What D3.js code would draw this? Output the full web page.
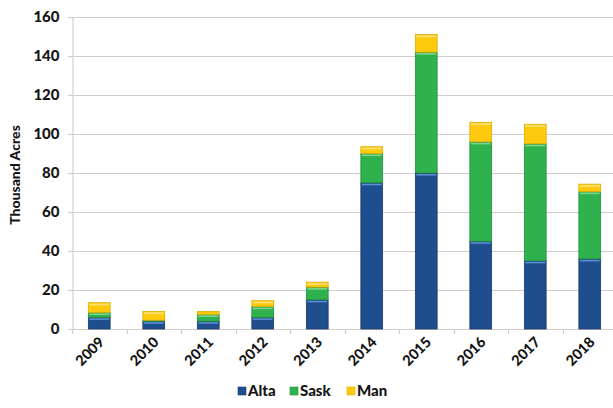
<!DOCTYPE html>
<html>
<head>
<meta charset="utf-8">
<script src="https://cdn.jsdelivr.net/npm/d3@7"></script>
<style>
  html, body { margin: 0; padding: 0; background: #fff; }
  svg { display: block; }
  text { font-family: Lato, "Open Sans", sans-serif; font-weight: 900; fill: #151515; }
</style>
</head>
<body>
<svg id="chart" width="613" height="408"></svg>
<script>
// Seeded acreage by province, thousand acres
const years = ["2009", "2010", "2011", "2012", "2013", "2014", "2015", "2016", "2017", "2018"];
const alta = [6, 4, 4, 6, 15, 75, 80, 45, 35, 36];
const sask = [2.5, 0.5, 3.5, 5.5, 6.5, 15, 62, 51, 60, 34.5];
const man  = [5, 4.5, 1.5, 3, 2.5, 3.5, 9, 10, 10, 3.8];
const seriesNames = ["Alta", "Sask", "Man"];
const yTicks = [0, 20, 40, 60, 80, 100, 120, 140, 160];

const colors = { Alta: "#1f4e8e", Sask: "#2fb14e", Man: "#ffc90e" };
const highlights = { Alta: "#5a8fd0", Sask: "#7fd48c", Man: "#ffe27a" };
const edges = { Alta: "#173d70", Sask: "#23913d", Man: "#e0ad00" };

const rows = years.map((yr, i) => ({ year: yr, Alta: alta[i], Sask: sask[i], Man: man[i] }));
const stacked = d3.stack().keys(seriesNames)(rows);

const svg = d3.select("#chart");
const plotLeft = 72, plotRight = 617, plotTop = 17, plotBottom = 329;

const x = d3.scaleBand().domain(years).range([plotLeft, plotRight]).paddingInner(0.6).paddingOuter(0.3);
const xb = d3.scaleBand().domain(years).range([plotLeft, plotRight]);
const y = d3.scaleLinear().domain([0, 160]).range([plotBottom, plotTop]);

const gridColor = "#d6cdc9";

// horizontal gridlines with short ticks left of the axis
svg.append("g").selectAll("line").data(yTicks.filter(d => d > 0)).join("line")
  .attr("x1", plotLeft - 4).attr("x2", 613)
  .attr("y1", d => Math.round(y(d)) + 0.5).attr("y2", d => Math.round(y(d)) + 0.5)
  .attr("stroke", gridColor).attr("stroke-width", 1.2);

// y axis
const yAxis = d3.axisLeft(y).tickValues(yTicks).tickSize(4).tickPadding(9);
const gy = svg.append("g").attr("transform", `translate(${plotLeft + 0.5},0)`).call(yAxis);
gy.select(".domain").attr("stroke", gridColor).attr("stroke-width", 1.2);
gy.selectAll(".tick line").attr("stroke", gridColor).attr("stroke-width", 1.2);
gy.selectAll(".tick text").attr("font-size", 15).attr("font-family", "Lato, sans-serif")
  .attr("font-weight", 900).attr("fill", "#151515");

// x axis with ticks at category boundaries
svg.append("line").attr("x1", plotLeft).attr("x2", 613)
  .attr("y1", plotBottom + 0.5).attr("y2", plotBottom + 0.5)
  .attr("stroke", gridColor).attr("stroke-width", 1.2);
svg.append("g").selectAll("line").data(years.concat(["end"])).join("line")
  .attr("x1", (d, i) => Math.round(plotLeft + i * xb.bandwidth()) + 0.5)
  .attr("x2", (d, i) => Math.round(plotLeft + i * xb.bandwidth()) + 0.5)
  .attr("y1", plotBottom).attr("y2", plotBottom + 5)
  .attr("stroke", gridColor).attr("stroke-width", 1.2);

// stacked bars
const layers = svg.append("g").selectAll("g").data(stacked).join("g");
layers.each(function (layer) {
  const key = layer.key;
  const g = d3.select(this);
  const segs = g.selectAll("g").data(layer).join("g");
  segs.append("rect")
    .attr("x", d => x(d.data.year))
    .attr("y", d => y(d[1]))
    .attr("width", x.bandwidth())
    .attr("height", d => Math.max(0, y(d[0]) - y(d[1])))
    .attr("fill", colors[key])
    .attr("stroke", edges[key]).attr("stroke-width", 0.8);
  segs.filter(d => y(d[0]) - y(d[1]) > 3).append("rect")
    .attr("x", d => x(d.data.year) + 1)
    .attr("y", d => y(d[1]) + 1)
    .attr("width", x.bandwidth() - 2)
    .attr("height", 1.6)
    .attr("fill", highlights[key]);
});

// x labels rotated
svg.append("g").selectAll("text").data(years).join("text")
  .attr("transform", d => `translate(${x(d) + x.bandwidth() / 2 + 6},${plotBottom + 14}) rotate(-45)`)
  .attr("text-anchor", "end")
  .attr("font-size", 14.5)
  .text(d => d);

// y axis title
svg.append("text")
  .attr("transform", `translate(20,${(plotTop + plotBottom) / 2 + 2}) rotate(-90)`)
  .attr("text-anchor", "middle")
  .attr("font-size", 14)
  .text("Thousand Acres");

// legend
const legendX = [238, 290, 347];
const lg = svg.append("g").selectAll("g").data(seriesNames).join("g")
  .attr("transform", (d, i) => `translate(${legendX[i]},387)`);
lg.append("rect").attr("width", 8).attr("height", 8)
  .attr("fill", d => colors[d]).attr("stroke", d => edges[d]).attr("stroke-width", 0.6);
lg.append("text").attr("x", 10).attr("y", 9).attr("font-size", 15).text(d => d);
</script>
</body>
</html>
